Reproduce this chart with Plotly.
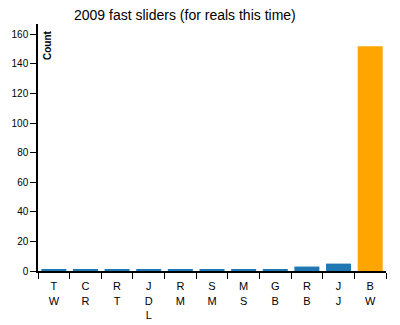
import plotly.graph_objects as go

labels = ["T<br>W", "C<br>R", "R<br>T", "J<br>D<br>L", "R<br>M", "S<br>M", "M<br>S", "G<br>B", "R<br>B", "J<br>J", "B<br>W"]
counts = [1, 1, 1, 1, 1, 1, 1, 1, 3, 5, 152]
colors = ["#1f77b4"] * 10 + ["#ffa500"]
title = "2009 fast sliders (for reals this time)"
y_ticks = [0, 20, 40, 60, 80, 100, 120, 140, 160]

fig = go.Figure(go.Bar(x=labels, y=counts, marker=dict(color=colors, line=dict(width=0)), width=0.79))

fig.update_layout(
    width=400, height=325,
    margin=dict(l=38, r=14, t=24, b=54, autoexpand=False),
    plot_bgcolor="white", paper_bgcolor="white",
    font=dict(family="Arial, Liberation Sans, sans-serif", size=10, color="black"),
    showlegend=False,
    bargap=0.2,
)
fig.update_xaxes(
    type="category", tickson="boundaries", ticks="outside", ticklen=6, tickcolor="black",
    showline=True, linecolor="black", linewidth=2, showgrid=False, tickfont=dict(size=11),
    ticklabelstandoff=4, automargin=False,
    range=[-0.5, len(labels) - 0.5],
)
fig.update_yaxes(
    range=[0, 167], tickvals=y_ticks, ticks="outside", ticklen=6, tickcolor="black",
    showline=True, linecolor="black", linewidth=1.5, showgrid=False, zeroline=False, tickfont=dict(size=10),
    automargin=False,
)
fig.add_annotation(text=title, xref="paper", yref="paper", x=(184.5 - 38) / 348, y=1, yshift=9,
                   showarrow=False, font=dict(size=14), xanchor="center", yanchor="middle")
fig.add_annotation(text="<b>Count</b>", xref="paper", yref="paper", x=(47 - 38) / 348, y=1, yshift=-21,
                   textangle=-90, showarrow=False, font=dict(size=10), xanchor="center", yanchor="middle")

fig.write_html("out.html")
